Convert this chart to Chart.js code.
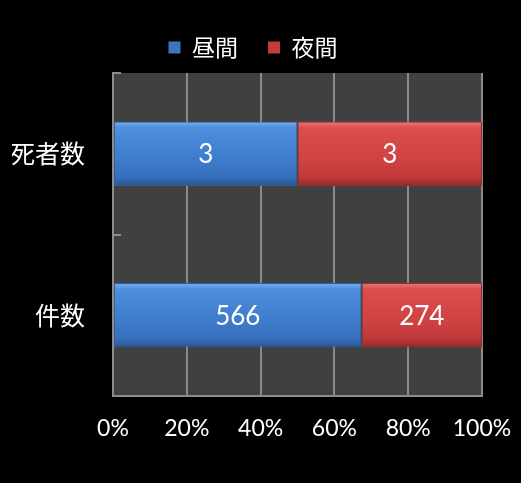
<!DOCTYPE html>
<html>
<head>
<meta charset="utf-8">
<script src="https://cdn.jsdelivr.net/npm/chart.js@4"></script>
<style>
  html, body { margin: 0; padding: 0; background: #000; }
  #wrap { width: 521px; height: 483px; }
</style>
</head>
<body>
<div id="wrap"><canvas id="chart_canvas"></canvas></div>
<script>
// データ
const categories = ['死者数', '件数'];
const seriesNames = ['昼間', '夜間'];
const daytime = [3, 566];
const nighttime = [3, 274];
const xTicks = [0, 20, 40, 60, 80, 100];

const jpFont = '"Noto Sans CJK JP", "Noto Sans", sans-serif';
const numFont = 'Lato, "Noto Sans", sans-serif';

// 100%積み上げ用に割合へ変換
const totals = categories.map((c, i) => daytime[i] + nighttime[i]);
const dayPct = daytime.map((v, i) => v / totals[i] * 100);
const nightPct = nighttime.map((v, i) => v / totals[i] * 100);

const blueStops = [[0, '#78b0f0'], [0.1, '#4f8edc'], [0.55, '#3e7dcd'], [0.86, '#3770bd'], [1, '#28558f']];
const redStops = [[0, '#ee7878'], [0.1, '#dc4e4e'], [0.55, '#d04343'], [0.86, '#c13a3a'], [1, '#8e2a2a']];

function barGradient(stops, fallback) {
    return function (ctx) {
        const chart = ctx.chart;
        const yScale = chart.scales.y;
        if (!chart.chartArea || !yScale || ctx.dataIndex === undefined) return fallback;
        const yc = yScale.getPixelForValue(ctx.dataIndex);
        const band = Math.abs(yScale.getPixelForValue(1) - yScale.getPixelForValue(0));
        const half = band * 0.4 / 2;
        if (!isFinite(yc) || !isFinite(half)) return fallback;
        const g = chart.ctx.createLinearGradient(0, yc - half, 0, yc + half);
        stops.forEach(s => g.addColorStop(s[0], s[1]));
        return g;
    };
}

// プロット背景と内向きの目盛り
const plotBg = {
    id: 'plotBg',
    afterInit(chart) {
        const lg = chart.legend;
        if (lg) {
            const f = lg.fit.bind(lg);
            lg.fit = function () { f(); this.height += 4; };
        }
    },
    afterLayout(chart) {
        // 凡例を少し右へ
        if (chart.legend) {
            chart.legend.left += 6;
            chart.legend.right += 6;
        }
    },
    beforeDraw(chart) {
        const { ctx, chartArea: a } = chart;
        ctx.save();
        ctx.fillStyle = '#404040';
        ctx.fillRect(a.left, a.top, a.right - a.left, a.bottom - a.top);
        ctx.restore();
    },
    afterDraw(chart) {
        const { ctx, chartArea: a } = chart;
        const y = chart.scales.y;
        ctx.save();
        ctx.strokeStyle = '#8c8c8c';
        ctx.lineWidth = 2;
        for (let i = 0; i <= categories.length; i++) {
            const py = Math.round(y.getPixelForValue(i - 0.5));
            ctx.beginPath();
            ctx.moveTo(a.left, py);
            ctx.lineTo(a.left + 8, py);
            ctx.stroke();
        }
        ctx.restore();
    }
};

// 値ラベル
const valueLabels = {
    id: 'valueLabels',
    afterDatasetsDraw(chart) {
        const ctx = chart.ctx;
        const raw = [daytime, nighttime];
        ctx.save();
        ctx.fillStyle = '#ffffff';
        ctx.font = '26px ' + numFont;
        ctx.textAlign = 'center';
        ctx.textBaseline = 'middle';
        chart.data.datasets.forEach((ds, di) => {
            chart.getDatasetMeta(di).data.forEach((bar, i) => {
                ctx.fillText(String(raw[di][i]), (bar.x + bar.base) / 2, bar.y + 1);
            });
        });
        ctx.restore();
    }
};

const legendColors = ['#3d74bd', '#c23c3c'];

const chart = new Chart(document.getElementById('chart_canvas'), {
    type: 'bar',
    data: {
        labels: categories,
        datasets: [
            {
                label: seriesNames[0],
                data: dayPct,
                backgroundColor: barGradient(blueStops, '#3e7dcd'),
                borderColor: '#2f5f9f',
                borderWidth: 1,
                borderSkipped: false,
                barPercentage: 0.4,
                categoryPercentage: 1
            },
            {
                label: seriesNames[1],
                data: nightPct,
                backgroundColor: barGradient(redStops, '#d04343'),
                borderColor: '#9a2e2e',
                borderWidth: 1,
                borderSkipped: false,
                barPercentage: 0.4,
                categoryPercentage: 1
            }
        ]
    },
    options: {
        indexAxis: 'y',
        responsive: true,
        maintainAspectRatio: false,
        animation: false,
        layout: {
            padding: { top: 6, right: 39, bottom: 0, left: 12 }
        },
        scales: {
            x: {
                stacked: true,
                min: 0,
                max: 100,
                afterBuildTicks(scale) {
                    scale.ticks = xTicks.map(v => ({ value: v }));
                },
                afterFit(scale) {
                    scale.height = 87;
                    scale.paddingLeft = 0;
                    scale.paddingRight = 0;
                },
                grid: {
                    color: '#8a8a8a',
                    lineWidth: 2,
                    drawTicks: false
                },
                border: { color: '#8c8c8c', width: 2 },
                ticks: {
                    color: '#ffffff',
                    padding: 19,
                    font: { family: numFont, size: 23 },
                    callback: v => v + '%'
                }
            },
            y: {
                stacked: true,
                afterFit(scale) { scale.width = 101; },
                grid: { display: false },
                border: { color: '#8c8c8c', width: 2 },
                ticks: {
                    color: '#ffffff',
                    padding: 20,
                    font: { family: jpFont, size: 25 }
                }
            }
        },
        plugins: {
            legend: {
                display: true,
                position: 'top',
                align: 'center',
                labels: {
                    color: '#ffffff',
                    boxWidth: 12,
                    boxHeight: 12,
                    padding: 30,
                    font: { family: jpFont, size: 23 },
                    generateLabels(chart) {
                        return chart.data.datasets.map((ds, i) => ({
                            text: ds.label,
                            fillStyle: legendColors[i],
                            strokeStyle: legendColors[i],
                            lineWidth: 0,
                            fontColor: '#ffffff',
                            hidden: false,
                            datasetIndex: i
                        }));
                    }
                }
            },
            tooltip: { enabled: false }
        }
    },
    plugins: [plotBg, valueLabels]
});
</script>
</body>
</html>
